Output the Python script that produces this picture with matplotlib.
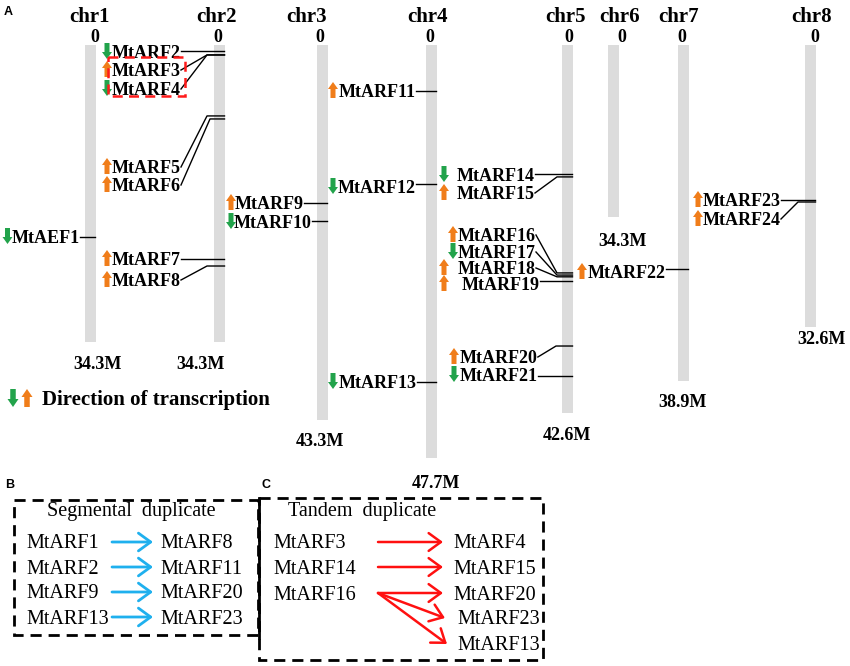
import matplotlib
matplotlib.use('Agg')
import matplotlib.pyplot as plt
from matplotlib.patches import Rectangle, Polygon, FancyArrowPatch

# ---------------- data ----------------
chr_names = ['chr1', 'chr2', 'chr3', 'chr4', 'chr5', 'chr6', 'chr7', 'chr8']
chr_sizes_mb = [34.3, 34.3, 43.3, 47.7, 42.6, 34.3, 38.9, 32.6]
chr_drawn_mb = [34.3, 34.3, 43.3, 47.7, 42.6, 19.9, 38.9, 32.6]   # bar length as drawn

gene_names = ['MtAEF1', 'MtARF2', 'MtARF3', 'MtARF4', 'MtARF5', 'MtARF6', 'MtARF7', 'MtARF8',
              'MtARF9', 'MtARF10', 'MtARF11', 'MtARF12', 'MtARF13', 'MtARF14', 'MtARF15',
              'MtARF16', 'MtARF17', 'MtARF18', 'MtARF19', 'MtARF20', 'MtARF21', 'MtARF22',
              'MtARF23', 'MtARF24']
gene_chr = [1, 2, 2, 2, 2, 2, 2, 2, 3, 3, 4, 4, 4, 5, 5, 5, 5, 5, 5, 5, 5, 7, 8, 8]
gene_pos_mb = [22.2, 0.7, 1.15, 1.15, 8.2, 8.55, 24.7, 25.55, 18.25, 20.35, 5.3, 16.05, 38.95,
               14.9, 15.25, 26.35, 26.6, 26.8, 27.3, 34.8, 38.25, 25.9, 17.9, 18.15]
gene_strand = ['-', '-', '+', '-', '+', '+', '+', '+', '+', '-', '+', '-', '-', '-', '+',
               '+', '-', '+', '+', '+', '-', '+', '+', '+']

segmental_pairs = [('MtARF1', 'MtARF8'), ('MtARF2', 'MtARF11'),
                   ('MtARF9', 'MtARF20'), ('MtARF13', 'MtARF23')]
tandem_pairs = [('MtARF3', 'MtARF4'), ('MtARF14', 'MtARF15'), ('MtARF16', 'MtARF20'),
                ('MtARF16', 'MtARF23'), ('MtARF16', 'MtARF13')]

# ---------------- layout / style ----------------
W, H = 850, 666
TOP, SCALE = 45, 8.65          # px of 0 Mb, px per Mb
BAR_W = 11
chr_x = [91, 220, 323, 432, 568, 614, 684, 811]
chr_label_x = [90, 217, 307, 428, 566, 620, 679, 812]
zero_x = [95, 218, 320, 430, 569, 622, 682, 815]
size_label_xy = [(98, 369), (201, 369), (320, 446), (436, 488), (567, 440),
                 (623, 246), (683, 407), (822, 344)]

# arrow centre x, text left x, label centre y, elbow x
gene_layout = {
    'MtAEF1': (7.5, 12, 237, None), 'MtARF2': (107, 112, 52, None),
    'MtARF3': (107, 112, 70, 207), 'MtARF4': (107, 112, 89, 207),
    'MtARF5': (107, 112, 167, 207), 'MtARF6': (107, 112, 185, 210),
    'MtARF7': (107, 112, 259, None), 'MtARF8': (107, 112, 280, 207),
    'MtARF9': (231, 235, 203, None), 'MtARF10': (231, 234, 222, None),
    'MtARF11': (333, 339, 91, None), 'MtARF12': (333, 338, 187, None),
    'MtARF13': (333, 339, 382, None), 'MtARF14': (444, 457, 175, None),
    'MtARF15': (444, 457, 193, 557), 'MtARF16': (453, 458, 235, 557),
    'MtARF17': (453, 458, 252, 557), 'MtARF18': (444, 458, 268, 557),
    'MtARF19': (444, 462, 284, None), 'MtARF20': (454, 460, 357, 556),
    'MtARF21': (454, 460, 375, None), 'MtARF22': (582, 588, 272, None),
    'MtARF23': (698, 703, 200, None), 'MtARF24': (698, 703, 219, 798),
}

SERIF = 'Liberation Serif'
SANS = 'Liberation Sans'
GREEN = '#22A34B'
ORANGE = '#F07D1A'
GREY = '#DCDCDC'
CYAN = '#1FB0EE'


def ypx(mb):
    return TOP + mb * SCALE


fig = plt.figure(figsize=(W / 100, H / 100), dpi=100)
ax = fig.add_axes([0, 0, 1, 1])
ax.set_xlim(0, W)
ax.set_ylim(H, 0)
ax.axis('off')


def dir_arrow(cx, cy, up, w=10, h=16, sw=5, hl=7):
    s = -1 if up else 1
    tip = cy + s * h / 2
    base = tip - s * hl
    tail = cy - s * h / 2
    pts = [(cx, tip), (cx + w / 2, base), (cx + sw / 2, base), (cx + sw / 2, tail),
           (cx - sw / 2, tail), (cx - sw / 2, base), (cx - w / 2, base)]
    ax.add_patch(Polygon(pts, closed=True, color=ORANGE if up else GREEN, lw=0, zorder=4))


# panel letters
ax.text(4, 15, 'A', family=SANS, weight='bold', fontsize=9, va='baseline')
ax.text(5, 488, 'B', family=SANS, weight='bold', fontsize=9, va='baseline')
ax.text(262, 488, 'C', family=SANS, weight='bold', fontsize=9, va='baseline')

# chromosomes
for i, name in enumerate(chr_names):
    cx = chr_x[i]
    ax.add_patch(Rectangle((cx - BAR_W / 2, ypx(0)), BAR_W, chr_drawn_mb[i] * SCALE,
                           color=GREY, lw=0, zorder=1))
    ax.text(chr_label_x[i], 22, name, family=SERIF, weight='bold', fontsize=15,
            ha='center', va='baseline')
    ax.text(zero_x[i], 42, '0', family=SERIF, weight='bold', fontsize=13,
            ha='center', va='baseline')
    sx, sy = size_label_xy[i]
    ax.text(sx, sy, f'{chr_sizes_mb[i]}M', family=SERIF, weight='bold', fontsize=13,
            ha='center', va='baseline')

# gene labels
texts = {}
for g, strand in zip(gene_names, gene_strand):
    acx, tx, ly, _ = gene_layout[g]
    dir_arrow(acx, ly - 1, strand == '+')
    texts[g] = ax.text(tx, ly + 6, g, family=SERIF, weight='bold', fontsize=13,
                       va='baseline', zorder=3)

fig.canvas.draw()
renderer = fig.canvas.get_renderer()
inv = ax.transData.inverted()
for g, c, pos in zip(gene_names, gene_chr, gene_pos_mb):
    _, _, ly, elbow = gene_layout[g]
    bb = texts[g].get_window_extent(renderer)
    xr = inv.transform((bb.x1, bb.y0))[0]
    xend = chr_x[c - 1] + BAR_W / 2 - 1
    ya = ypx(pos)
    if elbow is None:
        ax.plot([xr, xend], [ya, ya], color='black', lw=1.0, zorder=2)
    else:
        ax.plot([xr, elbow, xend], [ly, ya, ya], color='black', lw=1.0, zorder=2)

# red dashed box around tandem pair
ax.add_patch(Rectangle((108, 57), 77, 39, fill=False, ec='#FF1A1A', lw=1.8,
                       ls=(0, (4, 2.5)), zorder=5))

# legend
dir_arrow(13, 398, False, w=11, h=18, sw=5.5, hl=8)
dir_arrow(27, 398, True, w=11, h=18, sw=5.5, hl=8)
ax.text(42, 405, 'Direction of transcription', family=SERIF, weight='bold', fontsize=15,
        va='baseline')

# ---------------- panel B ----------------
ax.add_patch(Rectangle((14, 500), 244, 135, fill=False, ec='black', lw=2,
                       ls=(0, (4, 2.5))))
ax.text(47, 516, 'Segmental  duplicate', family=SERIF, fontsize=14.5, va='baseline')
b_rows = [542, 567, 592, 617]
for (src, dst), yr in zip(segmental_pairs, b_rows):
    ax.text(26, yr + 6.5, src, family=SERIF, fontsize=14.5, va='baseline')
    ax.text(160, yr + 6.5, dst, family=SERIF, fontsize=14.5, va='baseline')
    ax.add_patch(FancyArrowPatch((112, yr), (153, yr),
                                 arrowstyle='->,head_length=0.55,head_width=0.4',
                                 mutation_scale=16, lw=2.0, color=CYAN, shrinkA=0, shrinkB=0))

# ---------------- panel C ----------------
ax.add_patch(Rectangle((259, 498), 284, 162, fill=False, ec='black', lw=2,
                       ls=(0, (4, 2.5))))
ax.plot([259, 259], [498, 638], color='black', lw=2)
ax.text(288, 516, 'Tandem  duplicate', family=SERIF, fontsize=14.5, va='baseline')
c_src_rows = [542, 567, 593]
c_dst_rows = [542, 567, 593, 618, 644]
c_dst_x = [453, 453, 453, 457, 457]
c_arrow_end = [443, 443, 443, 445, 447]
sources = []
for s, _ in tandem_pairs:
    if s not in sources:
        sources.append(s)
for s, yr in zip(sources, c_src_rows):
    ax.text(273, yr + 6.5, s, family=SERIF, fontsize=14.5, va='baseline')
for k, (s, d) in enumerate(tandem_pairs):
    ys = c_src_rows[sources.index(s)]
    yd = c_dst_rows[k]
    ax.text(c_dst_x[k], yd + 6.5, d, family=SERIF, fontsize=14.5, va='baseline')
    ax.add_patch(FancyArrowPatch((378, ys), (c_arrow_end[k], yd),
                                 arrowstyle='->,head_length=0.55,head_width=0.4',
                                 mutation_scale=16, lw=1.8, color='#FF1010',
                                 shrinkA=0, shrinkB=0))

fig.savefig('out.png', dpi=100)
